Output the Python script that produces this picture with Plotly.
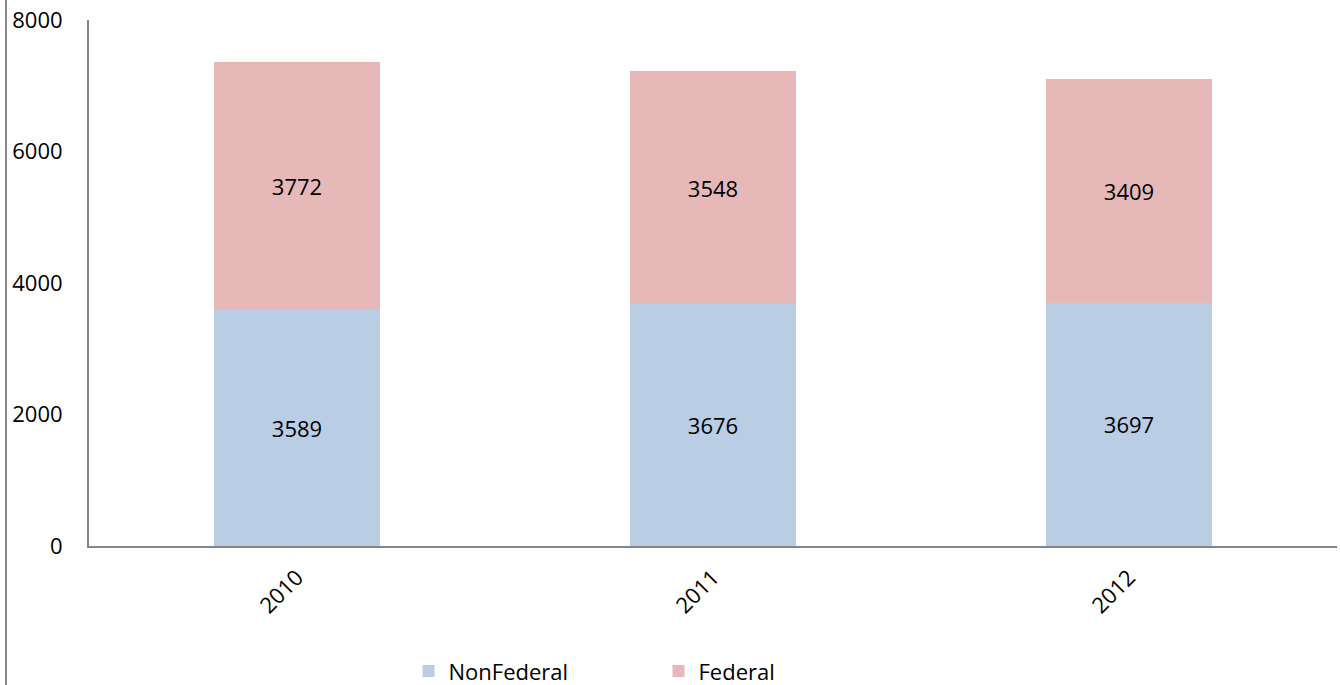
import plotly.graph_objects as go

years = ["2010", "2011", "2012"]
nonfederal = [3589, 3676, 3697]
federal = [3772, 3548, 3409]
y_ticks = [0, 2000, 4000, 6000, 8000]

FONT = "Open Sans"
FS = 22

fig = go.Figure()
fig.add_trace(go.Bar(
    x=years, y=nonfederal, name="NonFederal",
    marker=dict(color="#B9CDE5", line=dict(width=0)),
    text=[str(v) for v in nonfederal], textposition="inside",
    insidetextanchor="middle",
    textfont=dict(family=FONT, size=FS, color="black"),
))
fig.add_trace(go.Bar(
    x=years, y=federal, name="Federal",
    marker=dict(color="#E6B9B8", line=dict(width=0)),
    text=[str(v) for v in federal], textposition="inside",
    insidetextanchor="middle",
    textfont=dict(family=FONT, size=FS, color="black"),
))

fig.update_layout(
    barmode="stack",
    bargap=0.6,
    width=1340, height=685,
    margin=dict(l=89, r=3, t=20, b=139, autoexpand=False),
    paper_bgcolor="white", plot_bgcolor="white",
    font=dict(family=FONT, size=FS, color="black"),
    uniformtext=dict(mode="show", minsize=FS),
    showlegend=True,
    legend=dict(
        orientation="h", x=0.256, y=-0.238, xanchor="left", yanchor="middle",
        entrywidth=205, entrywidthmode="pixels",
        traceorder="normal",
        font=dict(family=FONT, size=FS, color="black"),
    ),
)
fig.update_xaxes(
    showline=True, linecolor="#868686", linewidth=2,
    tickangle=-45, ticks="", showgrid=False, automargin=False,
    ticklabelstandoff=8,
    tickfont=dict(family=FONT, size=FS),
)
fig.update_yaxes(
    range=[0, 8000], tickvals=y_ticks, ticktext=[str(v) for v in y_ticks],
    showline=True, linecolor="#868686", linewidth=2,
    showgrid=False, zeroline=False, ticks="", automargin=False,
    ticklabelstandoff=20,
    tickfont=dict(family=FONT, size=FS),
)
# outer chart-area left border
fig.add_shape(type="line", xref="paper", yref="paper",
              x0=-0.0665, x1=-0.0665, y0=-0.27, y1=1.05,
              line=dict(color="#898989", width=2))

fig.write_html("out.html", config={"displayModeBar": False},
               post_script="document.body.style.margin='0px';")
